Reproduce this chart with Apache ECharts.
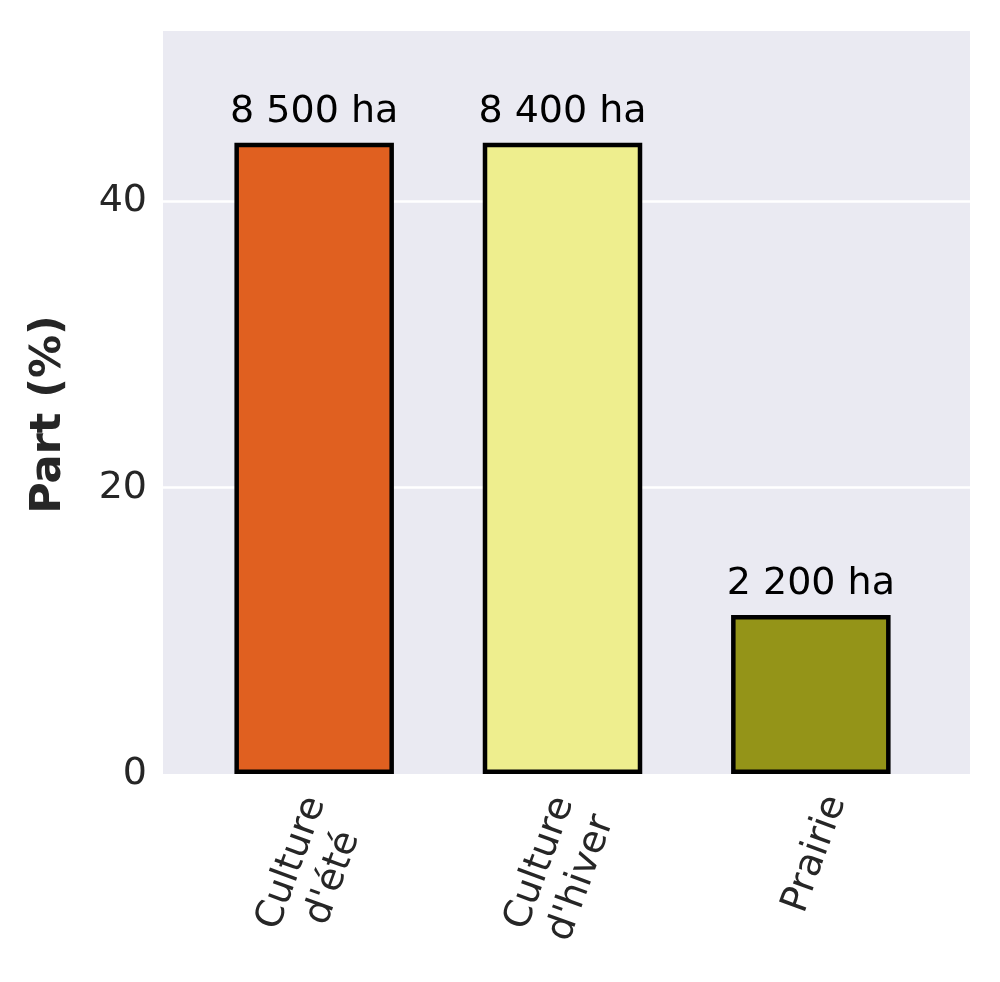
<!DOCTYPE html>
<html>
<head>
<meta charset="utf-8">
<script src="https://cdn.jsdelivr.net/npm/echarts@6/dist/echarts.min.js"></script>
<style>
html,body{margin:0;padding:0;background:#fff;}
#chart{width:1000px;height:982px;}
</style>
</head>
<body>
<div id="chart"></div>
<script>
// ---- data ----
const categories = ["Culture\nd'été", "Culture\nd'hiver", "Prairie"];
const shares = [44.1, 44.1, 11.1];
const areaLabels = ["8 500 ha", "8 400 ha", "2 200 ha"];
const yTicks = [0, 20, 40];
const yMax = 51.9;
// ---- styles ----
const barColors = ["#E06020", "#EEEE8E", "#949418"];
const labelPads = [[12, 10, 0, 0], [12, 10, 0, 0], [0, 0, 3, 25]];
const FONT = "DejaVu Sans";

const chart = echarts.init(document.getElementById('chart'), null, {renderer: 'canvas'});

const option = {
  backgroundColor: '#ffffff',
  animation: false,
  grid: [
    {left: 163, right: 30, top: 31, bottom: 208, show: true, backgroundColor: '#EAEAF2', borderWidth: 0,
     containLabel: false, outerBoundsMode: 'none'},
    {left: 190, right: 65, top: 31, bottom: 208, containLabel: false, outerBoundsMode: 'none'}
  ],
  xAxis: [
    {type: 'value', gridIndex: 0, min: 0, max: 1, show: false},
    {
      type: 'category', gridIndex: 1,
      data: categories.map((c, i) => ({
        value: c,
        textStyle: {padding: labelPads[i], align: 'center', verticalAlign: 'middle'}
      })),
      axisLine: {show: false}, axisTick: {show: false},
      axisLabel: {
        rotate: 70, margin: 92, align: 'center', verticalAlign: 'middle',
        fontFamily: FONT, fontSize: 38, color: '#262626', lineHeight: 44, interval: 0
      }
    }
  ],
  yAxis: [
    {
      type: 'value', gridIndex: 0, min: 0, max: yMax, interval: 20,
      axisLine: {show: false}, axisTick: {show: false},
      axisLabel: {
        margin: 16, fontFamily: FONT, fontSize: 38, color: '#262626',
        showMaxLabel: false,
        formatter: v => (yTicks.indexOf(v) >= 0 ? String(v) : '')
      },
      splitLine: {show: true, showMinLine: false, showMaxLine: false, lineStyle: {color: '#ffffff', width: 2.5}},
      name: 'Part (%)', nameLocation: 'middle', nameGap: 93,
      nameTextStyle: {fontFamily: FONT, fontSize: 43, fontWeight: 'bold', color: '#262626', padding: [0, 24, 0, 0]}
    },
    {type: 'value', gridIndex: 1, min: 0, max: yMax, show: false}
  ],
  series: [{
    type: 'bar', xAxisIndex: 1, yAxisIndex: 1,
    barWidth: 159.5,
    data: shares.map((v, i) => ({value: v, itemStyle: {color: barColors[i]}})),
    itemStyle: {borderColor: '#000000', borderWidth: 4.5},
    label: {
      show: true, position: 'top', distance: 12,
      fontFamily: FONT, fontSize: 38, color: '#000000',
      formatter: p => areaLabels[p.dataIndex]
    },
    z: 5
  }]
};
chart.setOption(option);
</script>
</body>
</html>
